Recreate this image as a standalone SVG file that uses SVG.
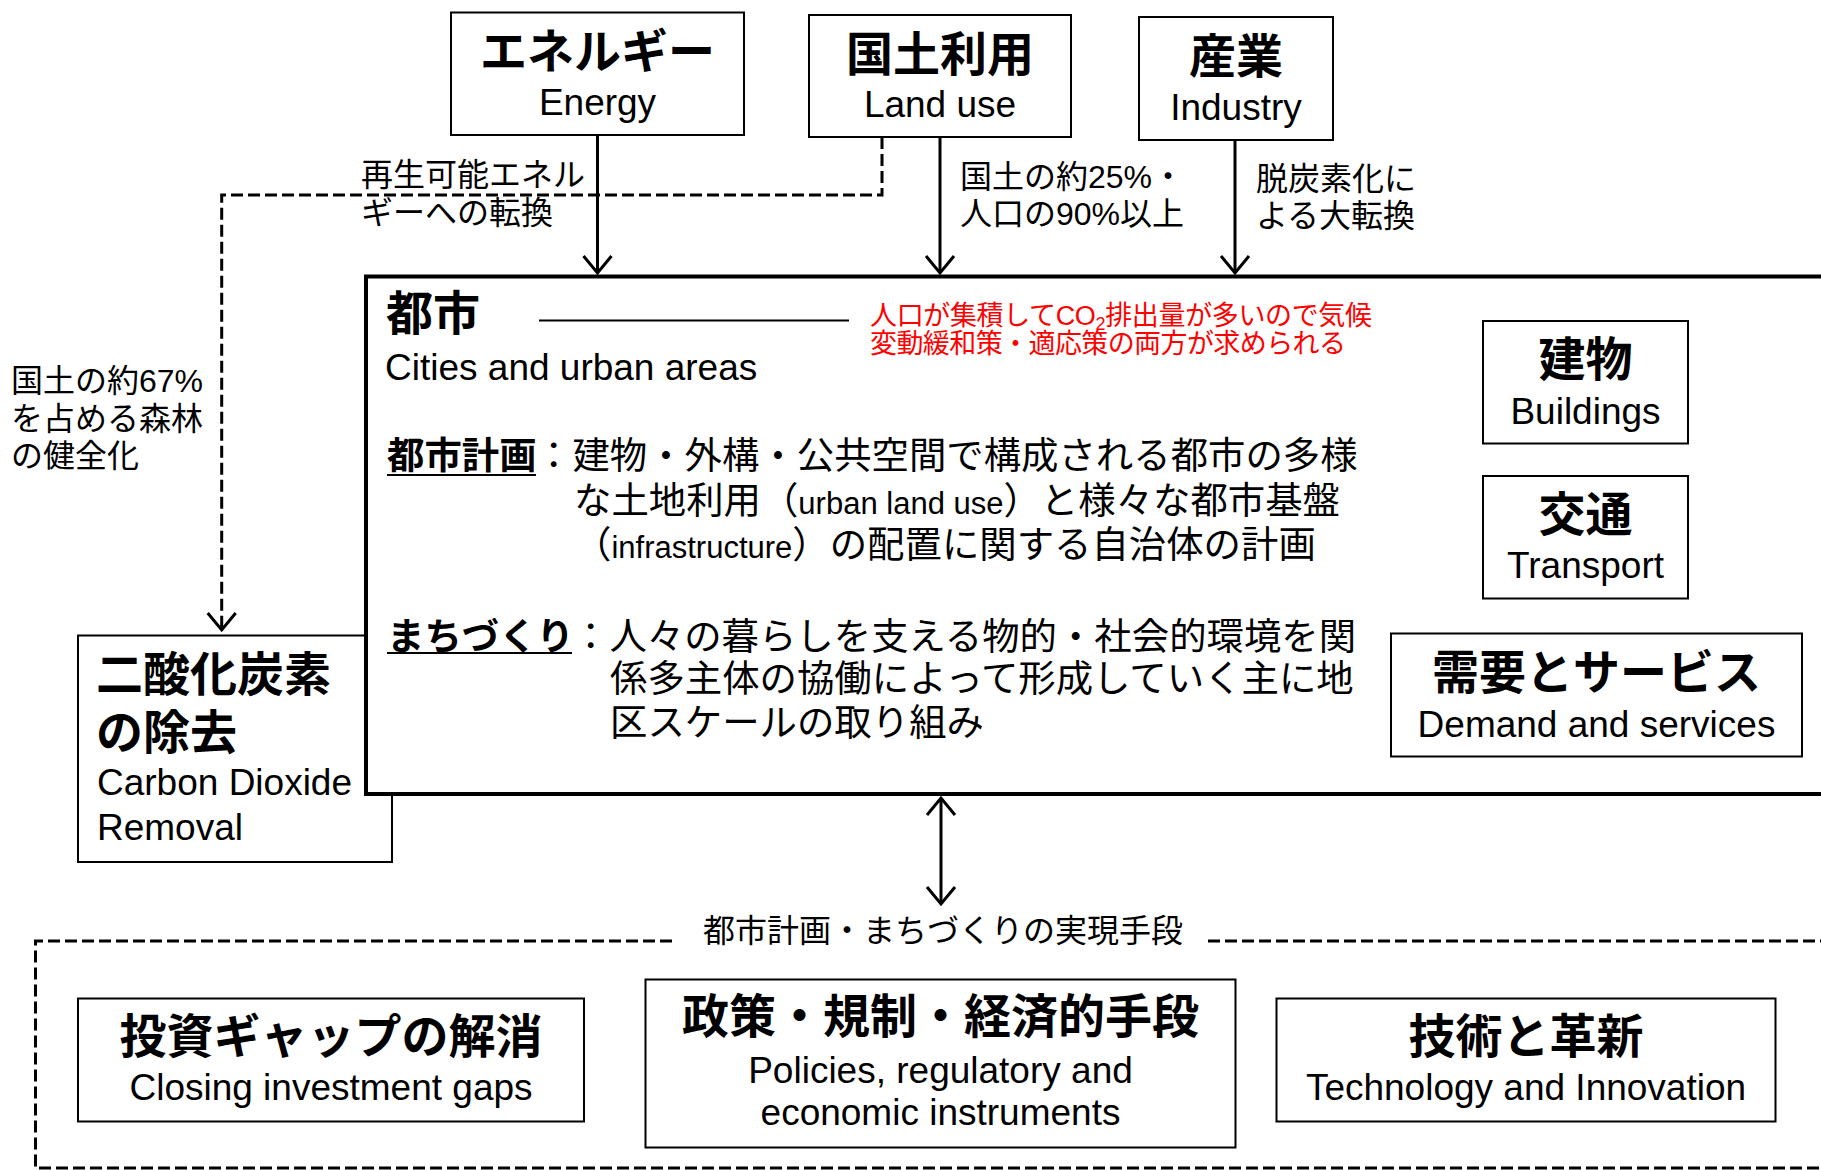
<svg xmlns="http://www.w3.org/2000/svg" width="1821" height="1170" viewBox="0 0 1821 1170">
<style>
text{font-family:"Liberation Sans","Noto Sans CJK JP",sans-serif;fill:#000}
.box{fill:#fff;stroke:#000;stroke-width:2}
.city{fill:#fff;stroke:#000;stroke-width:4}
.t{font-family:"Liberation Sans","Noto Sans CJK JP",sans-serif;font-weight:bold;font-size:47px;text-anchor:middle}
.s{font-size:37px;text-anchor:middle}
.st{text-anchor:start}
.lbl{font-size:32px}
.b{font-size:37.4px}
.lat{font-size:31px}
.red{font-size:27px;fill:#ff0000}
.con{fill:none;stroke:#000;stroke-width:3}
.dash{fill:none;stroke:#000;stroke-width:3;stroke-dasharray:12 5}
.thin{stroke:#000;stroke-width:2}
</style>
<defs>
<marker id="arr" viewBox="-20 -17 24 34" markerWidth="24" markerHeight="34" refX="0" refY="0" markerUnits="userSpaceOnUse" orient="auto-start-reverse">
<path d="M-17,-14 L0,0 L-17,14" fill="none" stroke="#000" stroke-width="3"/>
</marker>
</defs>

<g id="node-cdr">
<rect class="box" x="78" y="635.5" width="314" height="226.5"/>
<text class="t st" x="96" y="691">二酸化炭素</text>
<text class="t st" x="96" y="749">の除去</text>
<text class="s st" x="97" y="795">Carbon Dioxide</text>
<text class="s st" x="97" y="840">Removal</text>
</g>

<g id="node-city">
<rect class="city" x="366" y="276.5" width="1500" height="517.5"/>
<text class="t st" x="386" y="330" font-size="46">都市</text>
<text class="s st" x="385" y="380">Cities and urban areas</text>
<line class="thin" x1="539" y1="320.5" x2="849" y2="320.5"/>
<text class="red" x="870" y="325" textLength="502" lengthAdjust="spacing">人口が集積してCO<tspan font-size="18" dy="5">2</tspan><tspan dy="-5">排出量が多いので気候</tspan></text>
<text class="red" x="870" y="353" textLength="476" lengthAdjust="spacing">変動緩和策・適応策の両方が求められる</text>
<text class="b" x="387" y="469" font-weight="bold" font-size="37">都市計画</text>
<line class="thin" x1="387" y1="475" x2="536" y2="475"/>
<text class="b" x="535" y="469">：建物・外構・公共空間で構成される都市の多様</text>
<text class="b" x="574" y="514">な土地利用（<tspan class="lat">urban land use</tspan>）と様々な都市基盤</text>
<text class="b" x="574" y="558">（<tspan class="lat">infrastructure</tspan>）の配置に関する自治体の計画</text>
<text class="b" x="387" y="650" font-weight="bold" font-size="37">まちづくり</text>
<line class="thin" x1="387" y1="653" x2="572" y2="653"/>
<text class="b" x="572" y="650">：人々の暮らしを支える物的・社会的環境を関</text>
<text class="b" x="610" y="692">係多主体の協働によって形成していく主に地</text>
<text class="b" x="610" y="736">区スケールの取り組み</text>
</g>

<g id="node-buildings">
<rect class="box" x="1483" y="321" width="205" height="122.5"/>
<text class="t" x="1585.5" y="376">建物</text>
<text class="s" x="1585.5" y="424">Buildings</text>
</g>

<g id="node-transport">
<rect class="box" x="1483" y="476" width="205" height="122.5"/>
<text class="t" x="1585.5" y="531">交通</text>
<text class="s" x="1585.5" y="578">Transport</text>
</g>

<g id="node-demand">
<rect class="box" x="1391" y="633.5" width="411" height="123"/>
<text class="t" x="1596.5" y="689">需要とサービス</text>
<text class="s" x="1596.5" y="737">Demand and services</text>
</g>

<g id="node-energy">
<rect class="box" x="451" y="12.5" width="293" height="122.5"/>
<text class="t" x="597.5" y="68">エネルギー</text>
<text class="s" x="597.5" y="115">Energy</text>
</g>

<g id="node-landuse">
<rect class="box" x="809" y="15" width="262" height="122"/>
<text class="t" x="940" y="71">国土利用</text>
<text class="s" x="940" y="117">Land use</text>
</g>

<g id="node-industry">
<rect class="box" x="1139" y="17" width="194" height="123"/>
<text class="t" x="1236" y="73">産業</text>
<text class="s" x="1236" y="120">Industry</text>
</g>

<g id="node-means-frame">
<path class="dash" d="M672,941 H35.5 V1168 H1821"/>
<path class="dash" d="M1208,941 H1821"/>
<text class="lbl" x="703" y="942">都市計画・まちづくりの実現手段</text>
</g>

<g id="node-investment">
<rect class="box" x="78" y="998.5" width="506" height="123"/>
<text class="t" x="331" y="1053">投資ギャップの解消</text>
<text class="s" x="331" y="1100">Closing investment gaps</text>
</g>

<g id="node-policies">
<rect class="box" x="645.5" y="979.5" width="590" height="168"/>
<text class="t" x="940.5" y="1033">政策・規制・経済的手段</text>
<text class="s" x="940.5" y="1083">Policies, regulatory and</text>
<text class="s" x="940.5" y="1125">economic instruments</text>
</g>

<g id="node-technology">
<rect class="box" x="1276.5" y="998.5" width="499" height="123"/>
<text class="t" x="1526" y="1053">技術と革新</text>
<text class="s" x="1526" y="1100">Technology and Innovation</text>
</g>

<g id="connectors">
<line class="con" x1="597.5" y1="135" x2="597.5" y2="273" marker-end="url(#arr)"/>
<line class="con" x1="940" y1="137" x2="940" y2="273" marker-end="url(#arr)"/>
<line class="con" x1="1235" y1="140" x2="1235" y2="273" marker-end="url(#arr)"/>
<path class="dash" d="M882,137 V195 H221.7 V630" marker-end="url(#arr)"/>
<line class="con" x1="941" y1="798" x2="941" y2="904" marker-start="url(#arr)" marker-end="url(#arr)"/>
<text class="lbl" x="361" y="186">再生可能エネル</text>
<text class="lbl" x="361" y="224">ギーへの転換</text>
<text class="lbl" x="960" y="188">国土の約25%・</text>
<text class="lbl" x="960" y="225">人口の90%以上</text>
<text class="lbl" x="1256" y="190">脱炭素化に</text>
<text class="lbl" x="1256" y="227">よる大転換</text>
<text class="lbl" x="11" y="392">国土の約67%</text>
<text class="lbl" x="11" y="430">を占める森林</text>
<text class="lbl" x="11" y="467">の健全化</text>
</g>
</svg>
